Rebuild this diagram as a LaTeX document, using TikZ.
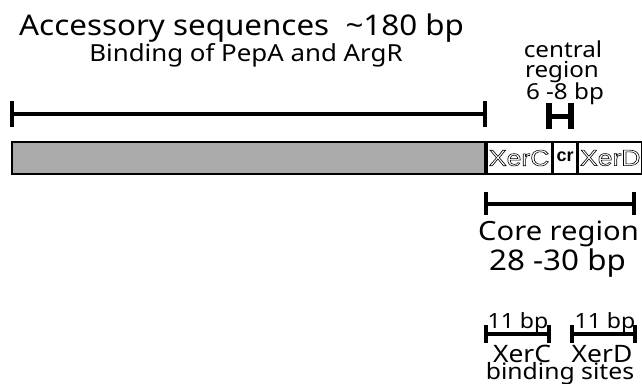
\documentclass[tikz,border=0pt]{standalone}
\usepackage{fontspec}
\setmainfont{Noto Sans}[FakeStretch=1.1]
\newfontfamily\boxfont{Liberation Sans}
\definecolor{barfill}{RGB}{170,170,170}
\newcommand\outlinetxt[1]{\special{pdf:literal direct 1 Tr 0.55 w}#1\special{pdf:literal direct 0 Tr}}
\tikzset{
  lbl/.style={inner sep=0pt, anchor=base},
  cell/.style={draw, line width=1.8pt, inner sep=0pt, minimum height=32pt},
  barline/.style={line width=4pt},
  tickline/.style={line width=4.5pt},
  hline/.style={line width=5pt},
  htick/.style={line width=6pt}
}
\begin{document}
\begin{tikzpicture}[x=1pt,y=-1pt]
\useasboundingbox (0,0) rectangle (642,383);
% texts
\node[lbl, anchor=base west, font=\fontsize{28.5}{28}\selectfont] (acc) at (19,35) {Accessory sequences\ \ \symbol{"7E}180 bp};
\node[lbl, font=\fontsize{23.5}{24}\selectfont] (bind) at (246,61) {Binding of PepA and ArgR};
\node[lbl, font=\fontsize{22}{22}\selectfont] (cen1) at (563,57) {central};
\node[lbl, font=\fontsize{22}{22}\selectfont] (cen2) at (562,77) {region};
\node[lbl, font=\fontsize{22}{22}\selectfont] (cen3) at (565,99) {6 -8 bp};
% bar
\node[cell, fill=barfill, minimum width=473pt, anchor=west] (acbar) at (11,158) {};
\node[cell, minimum width=65pt, anchor=west] (xerc) at (acbar.east) {\raisebox{-2pt}{\boxfont\fontsize{22.5}{22}\selectfont\scalebox{1.18}[1]{\outlinetxt{XerC}}}};
\node[cell, minimum width=23pt, anchor=west] (cr) at (xerc.east) {\raisebox{2.5pt}{\boxfont\bfseries\fontsize{18}{18}\selectfont cr}};
\node[cell, minimum width=64pt, anchor=west] (xerd) at (cr.east) {\raisebox{-2pt}{\boxfont\fontsize{22.5}{22}\selectfont\scalebox{1.18}[1]{\outlinetxt{XerD}}}};
% accessory bracket
\coordinate (a1) at (12,114);
\coordinate (a2) at (485,114);
\draw[barline] (a1) -- (a2);
\draw[tickline] (a1) ++(0,-13) -- ++(0,26);
\draw[tickline] (a2) ++(0,-13) -- ++(0,26);
% central bracket
\coordinate (c1) at (549,116);
\coordinate (c2) at (571,116);
\draw[hline] (c1) -- (c2);
\draw[htick] (c1) ++(0,-13) -- ++(0,26);
\draw[htick] (c2) ++(0,-13) -- ++(0,26);
% core bracket
\coordinate (k1) at (486,204);
\coordinate (k2) at (634,204);
\draw[barline] (k1) -- (k2);
\draw[tickline] (k1) ++(0,-12) -- ++(0,23);
\draw[tickline] (k2) ++(0,-12) -- ++(0,23);
\node[lbl, font=\fontsize{26.5}{26}\selectfont] (core) at (558.5,240) {Core region};
\node[lbl, font=\fontsize{28.5}{28}\selectfont] (len) at (557.5,270) {28 -30 bp};
% small brackets
\coordinate (s1) at (486,334);
\coordinate (s2) at (549,334);
\coordinate (s3) at (572,334);
\coordinate (s4) at (635,334);
\draw[barline] (s1) -- (s2);
\draw[tickline] (s1) ++(0,-9) -- ++(0,18);
\draw[tickline] (s2) ++(0,-9) -- ++(0,18);
\draw[barline] (s3) -- (s4);
\draw[tickline] (s3) ++(0,-9) -- ++(0,18);
\draw[tickline] (s4) ++(0,-9) -- ++(0,18);
\node[lbl, font=\fontsize{21}{21}\selectfont] (bp1) at (518,328) {11 bp};
\node[lbl, font=\fontsize{21}{21}\selectfont] (bp2) at (605,328) {11 bp};
\node[lbl, font=\fontsize{24}{24}\selectfont] (xc) at (522,362) {XerC};
\node[lbl, font=\fontsize{24}{24}\selectfont] (xd) at (602,362) {XerD};
\node[lbl, font=\fontsize{22.5}{22}\selectfont] (bs) at (560,379) {binding sites};
\end{tikzpicture}
\end{document}
